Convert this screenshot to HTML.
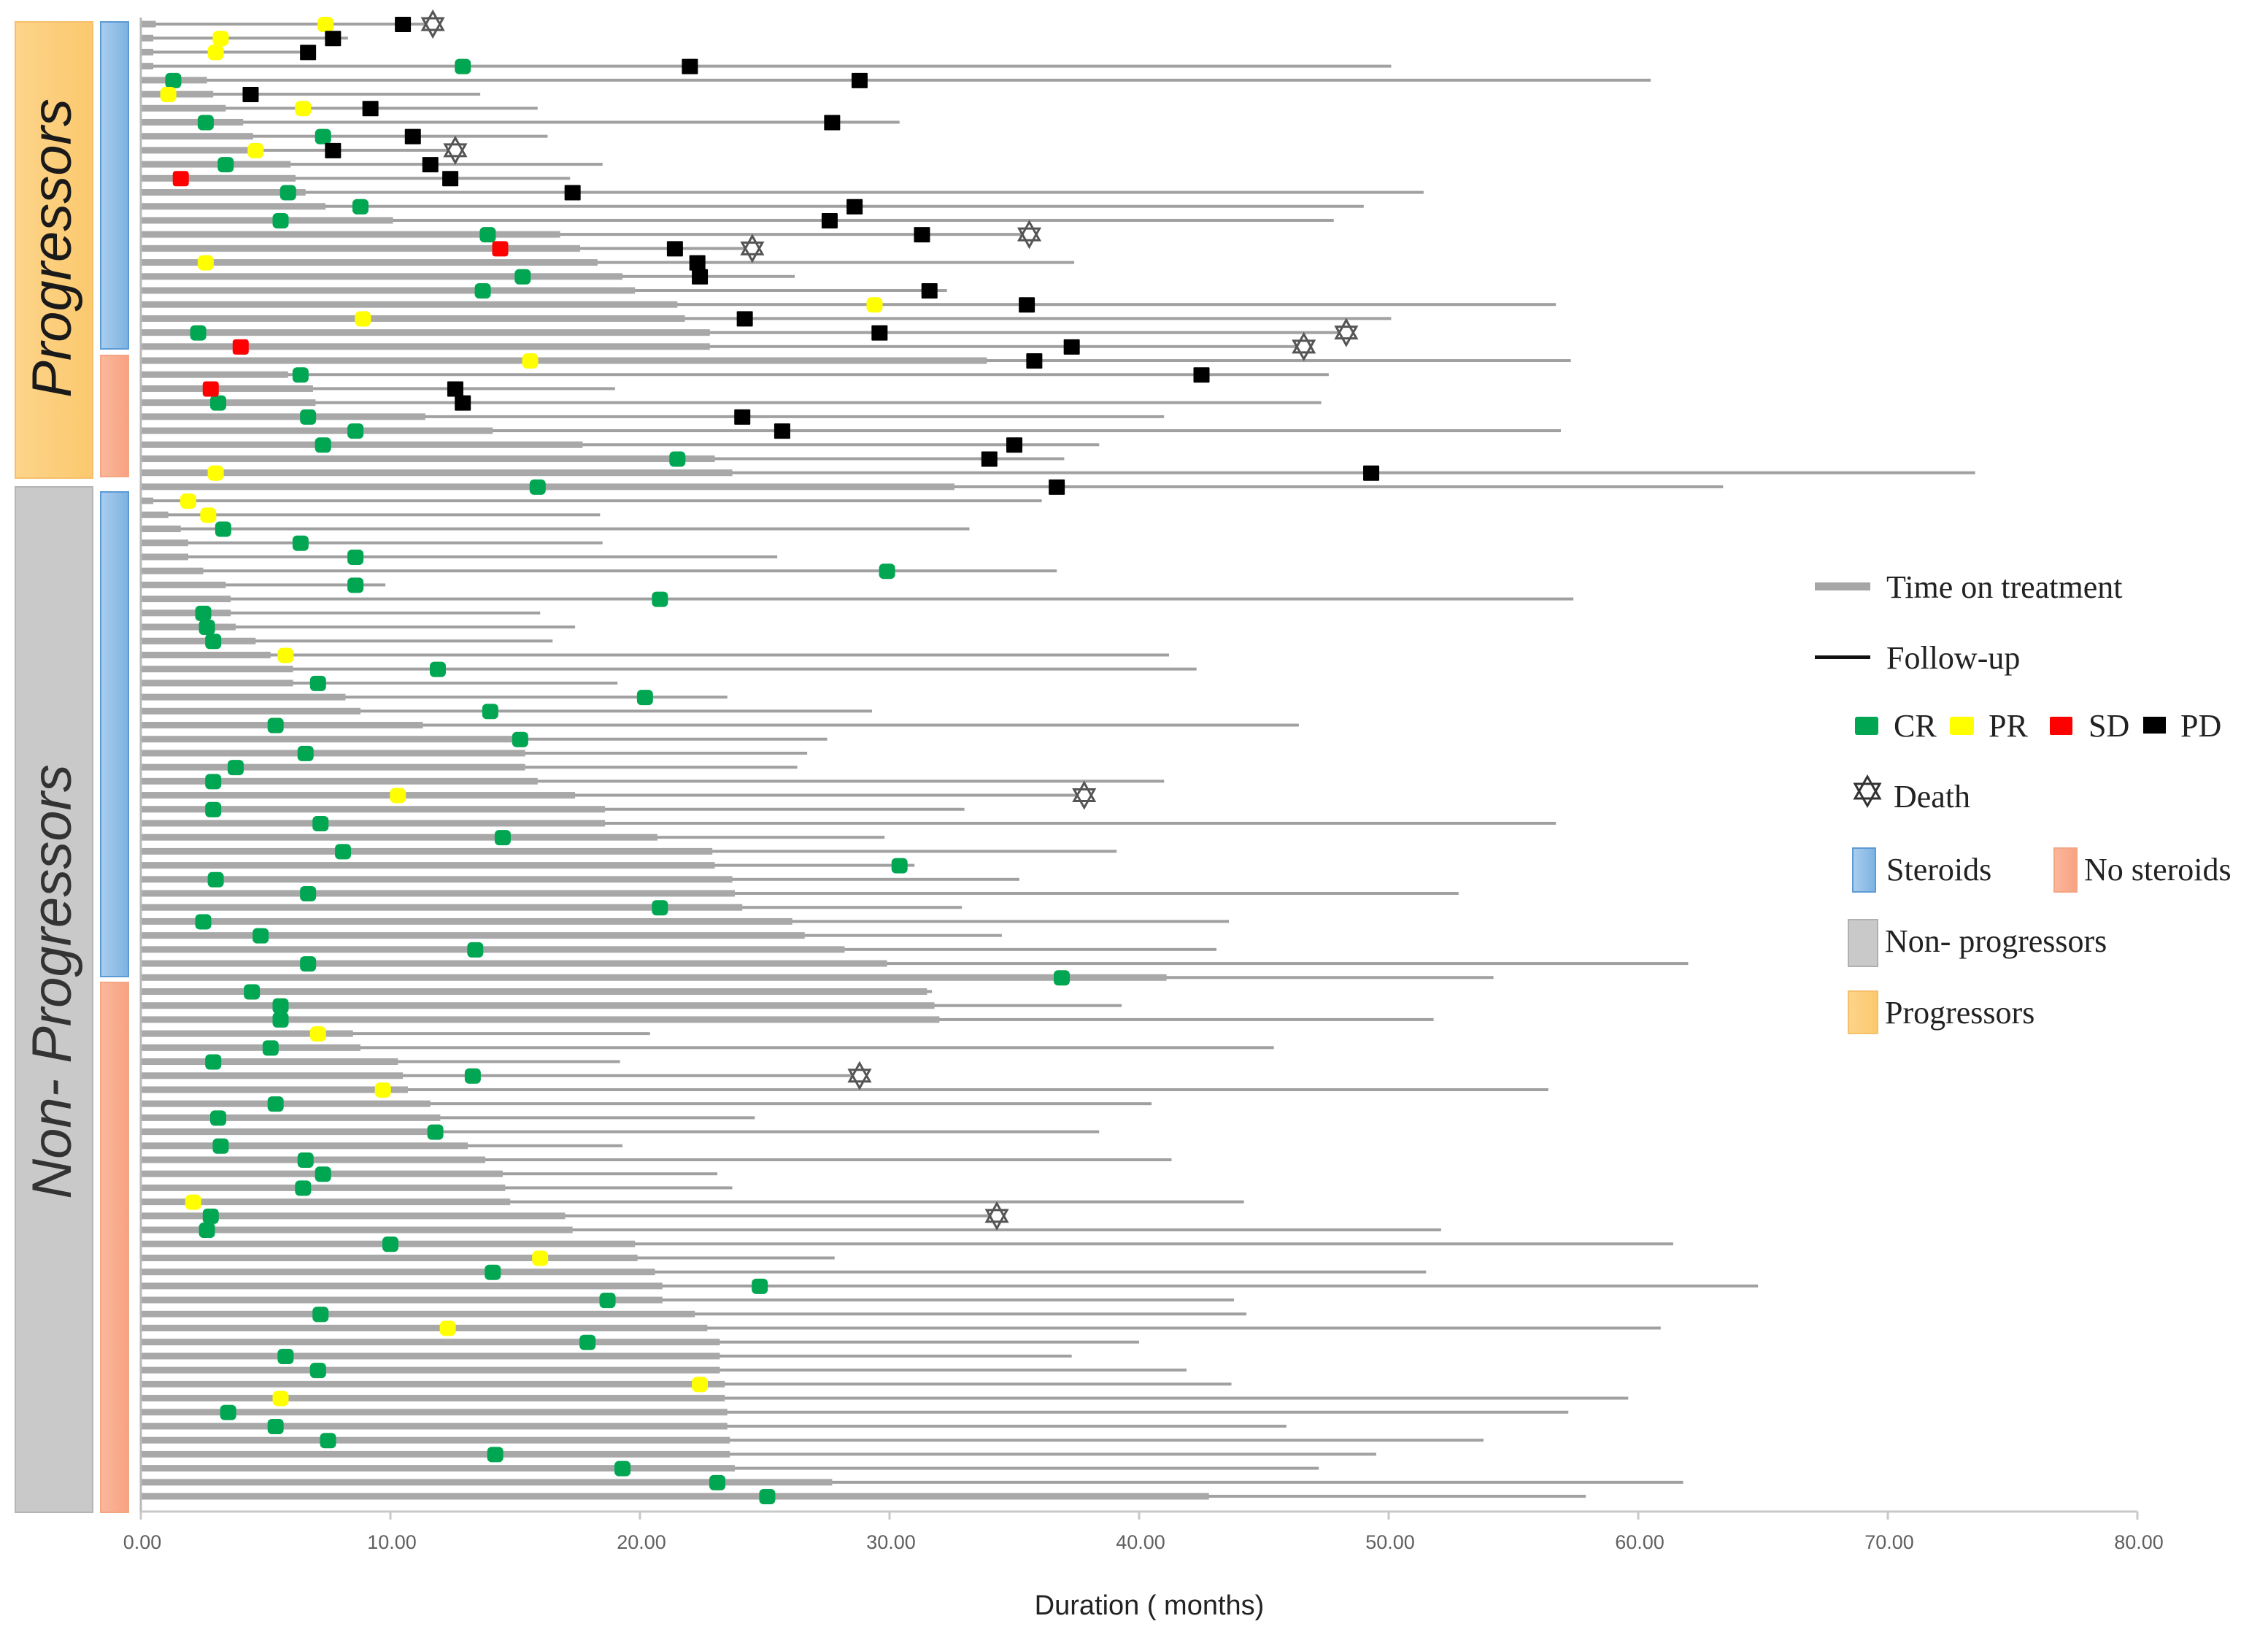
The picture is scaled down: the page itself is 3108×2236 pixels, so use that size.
<!DOCTYPE html>
<html><head><meta charset="utf-8"><style>
html,body{margin:0;padding:0;background:#fff;}
svg{display:block;}
</style></head><body>
<svg id="chart" xmlns="http://www.w3.org/2000/svg" width="3108" height="2236" viewBox="0 0 3108 2236">
<defs>
<linearGradient id="gProg" x1="0" y1="0" x2="1" y2="0"><stop offset="0" stop-color="#fdd48a"/><stop offset="1" stop-color="#fbc96e"/></linearGradient>
<linearGradient id="gBlue" x1="0" y1="0" x2="1" y2="0"><stop offset="0" stop-color="#a9cdee"/><stop offset="1" stop-color="#7eb2e2"/></linearGradient>
<linearGradient id="gSal" x1="0" y1="0" x2="1" y2="0"><stop offset="0" stop-color="#fbb79c"/><stop offset="1" stop-color="#f8a282"/></linearGradient>
</defs>
<rect x="0" y="0" width="3108" height="2236" fill="#fff"/>
<g>
<rect x="21" y="30" width="106" height="625" fill="url(#gProg)" stroke="#f5c06a" stroke-width="2"/>
<text transform="translate(97,340) rotate(-90)" text-anchor="middle" font-family="Liberation Sans, sans-serif" font-style="italic" font-size="76" fill="#1a1a1a">Progressors</text>
<rect x="21" y="667" width="106" height="1405" fill="#c9c9c9" stroke="#b5b5b5" stroke-width="2"/>
<text transform="translate(97,1345) rotate(-90)" text-anchor="middle" font-family="Liberation Sans, sans-serif" font-style="italic" font-size="76" fill="#333">Non- Progressors</text>
<rect x="138" y="30" width="38" height="448" fill="url(#gBlue)" stroke="#5b9bd5" stroke-width="2"/>
<rect x="138" y="487" width="38" height="166" fill="url(#gSal)" stroke="#f4a582" stroke-width="2"/>
<rect x="138" y="674" width="38" height="664" fill="url(#gBlue)" stroke="#5b9bd5" stroke-width="2"/>
<rect x="138" y="1346" width="38" height="726" fill="url(#gSal)" stroke="#f4a582" stroke-width="2"/>
</g>
<g id="plot"></g>
<g id="axis"></g>
<text x="1575" y="2212" text-anchor="middle" font-family="Liberation Sans, sans-serif" font-size="38" fill="#222">Duration ( months)</text>
<g font-family="Liberation Serif, serif" font-size="44" fill="#222" transform="translate(-20,-8)">
<rect x="2507" y="806" width="76" height="11" fill="#a6a6a6"/>
<text x="2605" y="827">Time on treatment</text>
<rect x="2507" y="906" width="76" height="5" fill="#111"/>
<text x="2605" y="924">Follow-up</text>
<rect x="2562" y="990" width="32" height="25" rx="3" fill="#00a651"/>
<text x="2615" y="1017">CR</text>
<rect x="2692" y="990" width="33" height="25" rx="3" fill="#ffff00"/>
<text x="2745" y="1017">PR</text>
<rect x="2829" y="990" width="31" height="25" rx="2" fill="#ff0000"/>
<text x="2882" y="1017">SD</text>
<rect x="2957" y="990" width="31" height="23" fill="#000"/>
<text x="3008" y="1017">PD</text>
<g transform="translate(2579,1092)" fill="none" stroke="#333" stroke-width="3">
<polygon points="0,-20 17,10 -17,10"/><polygon points="0,20 17,-10 -17,-10"/></g>
<text x="2615" y="1114">Death</text>
<rect x="2559" y="1170" width="31" height="60" fill="url(#gBlue)" stroke="#5b9bd5" stroke-width="2"/>
<text x="2605" y="1214">Steroids</text>
<rect x="2835" y="1170" width="31" height="60" fill="url(#gSal)" stroke="#f4a582" stroke-width="2"/>
<text x="2876" y="1214">No steroids</text>
<rect x="2553" y="1268" width="40" height="64" fill="#c9c9c9" stroke="#b0b0b0" stroke-width="2"/>
<text x="2603" y="1312">Non- progressors</text>
<rect x="2553" y="1366" width="40" height="58" fill="url(#gProg)" stroke="#f5c06a" stroke-width="2"/>
<text x="2603" y="1410">Progressors</text>
</g>
</svg>
<script>
const treatmentEnd = [0.6,0.5,0.5,0.5,2.65,2.9,3.4,4.1,4.5,4.7,
 6.0,6.2,6.6,7.4,10.1,16.8,17.6,18.3,19.3,19.8,
 21.5,21.8,22.8,22.8,33.9,5.9,6.9,7.0,11.4,14.1,
 17.7,23.0,23.7,32.6,0.5,1.1,1.6,1.9,1.9,2.5,
 3.4,3.6,3.6,3.8,4.6,5.2,6.1,6.1,8.2,8.8,
 11.3,15.4,15.4,15.4,15.9,17.4,18.6,18.6,20.7,22.9,
 23.0,23.7,23.8,24.1,26.1,26.6,28.2,29.9,41.1,31.5,
 31.8,32.0,8.5,8.8,10.3,10.5,10.7,11.6,12.0,12.0,
 13.1,13.8,14.5,14.6,14.8,17.0,17.3,19.8,19.9,20.6,
 20.9,20.9,22.2,22.7,23.2,23.2,23.2,23.4,23.4,23.5,
 23.5,23.6,23.6,23.8,27.7,42.8];
const followUpEnd = [11.7,8.3,6.7,50.1,60.5,13.6,15.9,30.4,16.3,12.6,
 18.5,17.2,51.4,49.0,47.8,35.6,24.5,37.4,26.2,32.3,
 56.7,50.1,48.3,46.6,57.3,47.6,19.0,47.3,41.0,56.9,
 38.4,37.0,73.5,63.4,36.1,18.4,33.2,18.5,25.5,36.7,
 9.8,57.4,16.0,17.4,16.5,41.2,42.3,19.1,23.5,29.3,
 46.4,27.5,26.7,26.3,41.0,37.8,33.0,56.7,29.8,39.1,
 31.0,35.2,52.8,32.9,43.6,34.5,43.1,62.0,54.2,31.7,
 39.3,51.8,20.4,45.4,19.2,28.8,56.4,40.5,24.6,38.4,
 19.3,41.3,23.1,23.7,44.2,34.3,52.1,61.4,27.8,51.5,
 64.8,43.8,44.3,60.9,40.0,37.3,41.9,43.7,59.6,57.2,
 45.9,53.8,49.5,47.2,61.8,57.9];
const crPoints = [[3,12.9],[4,1.3],[7,2.6],[8,7.3],[10,3.4],[12,5.9],[13,8.8],[14,5.6],[15,13.9],[18,15.3],[19,13.7],[22,2.3],[25,6.4],[27,3.1],[28,6.7],[29,8.6],[30,7.3],[31,21.5],[33,15.9],[36,3.3],[37,6.4],[38,8.6],[39,29.9],[40,8.6],[41,20.8],[42,2.5],[43,2.65],[44,2.9],[46,11.9],[47,7.1],[48,20.2],[49,14.0],[50,5.4],[51,15.2],[52,6.6],[53,3.8],[54,2.9],[56,2.9],[57,7.2],[58,14.5],[59,8.1],[60,30.4],[61,3.0],[62,6.7],[63,20.8],[64,2.5],[65,4.8],[66,13.4],[67,6.7],[68,36.9],[69,4.45],[70,5.6],[71,5.6],[73,5.2],[74,2.9],[75,13.3],[77,5.4],[78,3.1],[79,11.8],[80,3.2],[81,6.6],[82,7.3],[83,6.5],[85,2.8],[86,2.65],[87,10.0],[89,14.1],[90,24.8],[91,18.7],[92,7.2],[94,17.9],[95,5.8],[96,7.1],[99,3.5],[100,5.4],[101,7.5],[102,14.2],[103,19.3],[104,23.1],[105,25.1]];
const prPoints = [[0,7.4],[1,3.2],[2,3.0],[5,1.1],[6,6.5],[9,4.6],[17,2.6],[20,29.4],[21,8.9],[24,15.6],[32,3.0],[34,1.9],[35,2.7],[45,5.8],[55,10.3],[72,7.1],[76,9.7],[84,2.1],[88,16.0],[93,12.3],[97,22.4],[98,5.6]];
const sdPoints = [[11,1.6],[16,14.4],[23,4.0],[26,2.8]];
const pdPoints = [[0,10.5],[1,7.7],[2,6.7],[3,22.0],[4,28.8],[5,4.4],[6,9.2],[7,27.7],[8,10.9],[9,7.7],[10,11.6],[11,12.4],[12,17.3],[13,28.6],[14,27.6],[15,31.3],[16,21.4],[17,22.3],[18,22.4],[19,31.6],[20,35.5],[21,24.2],[22,29.6],[23,37.3],[24,35.8],[25,42.5],[26,12.6],[27,12.9],[28,24.1],[29,25.7],[30,35.0],[31,34.0],[32,49.3],[33,36.7]];
const deathPoints = [[0,11.7],[9,12.6],[15,35.6],[16,24.5],[22,48.3],[23,46.6],[55,37.8],[75,28.8],[85,34.3]];
const xTicks = [0,10,20,30,40,50,60,70,80];
const xTickLabels = ["0.00","10.00","20.00","30.00","40.00","50.00","60.00","70.00","80.00"];

const NS = "http://www.w3.org/2000/svg";
const X0 = 193, XK = 34.2, Y0 = 33, YK = 19.21;
function xs(m){ return X0 + m*XK; }
function ys(i){ return Y0 + i*YK; }
function mk(tag, attrs, parent){
  const e = document.createElementNS(NS, tag);
  for (const k in attrs) e.setAttribute(k, attrs[k]);
  parent.appendChild(e);
  return e;
}
const plot = document.getElementById('plot');
const axis = document.getElementById('axis');

let yl = mk('line', {x1:X0, y1:24, x2:X0, y2:2071, stroke:'#b8b8b8', 'stroke-width':3}, axis);


let xl = mk('line', {x1:X0, y1:2071, x2:xs(80), y2:2071, stroke:'#c8c8c8', 'stroke-width':3}, axis);


xTicks.forEach((t, i) => {
  const tk = mk('line', {x1:xs(t), y1:2071, x2:xs(t), y2:2082, stroke:'#c8c8c8', 'stroke-width':3}, axis);
  
  
  const tl = mk('text', {x:xs(t)+2, y:2122, 'text-anchor':'middle', 'font-family':'Liberation Sans Narrow, Liberation Sans, sans-serif', 'font-size':27, fill:'#606060'}, axis);
  tl.textContent = xTickLabels[i];
  
  
});

followUpEnd.forEach((f, i) => {
  const y = ys(i);
  const fl = mk('rect', {x:X0, y:y-2, width:Math.max(0, xs(f)-X0), height:4, fill:'#a0a0a0'}, plot);
  
  
  const tb = mk('rect', {x:X0, y:y-4.5, width:Math.max(0, xs(treatmentEnd[i])-X0), height:9, fill:'#a8a8a8'}, plot);
  
  
});

function drawMarkers(points, color, name, rx){
  points.forEach(p => {
    const r = mk('rect', {x:xs(p[1])-11, y:ys(p[0])-10, width:22, height:21, rx:rx, fill:color}, plot);
    
    
  });
}
drawMarkers(crPoints, '#00a651', 'cr-marker', 6);
drawMarkers(prPoints, '#ffff00', 'pr-marker', 7);
drawMarkers(sdPoints, '#ff0000', 'sd-marker', 4);
drawMarkers(pdPoints, '#000000', 'pd-marker', 1);
deathPoints.forEach(p => {
  const g = mk('g', {transform:'translate(' + xs(p[1]) + ',' + ys(p[0]) + ')', fill:'#fff', stroke:'#555', 'stroke-width':3}, plot);
  
  
  mk('polygon', {points:'0,-17 14,8 -14,8'}, g);
  mk('polygon', {points:'0,17 14,-8 -14,-8', fill:'none'}, g);
});
</script>
</body></html>
